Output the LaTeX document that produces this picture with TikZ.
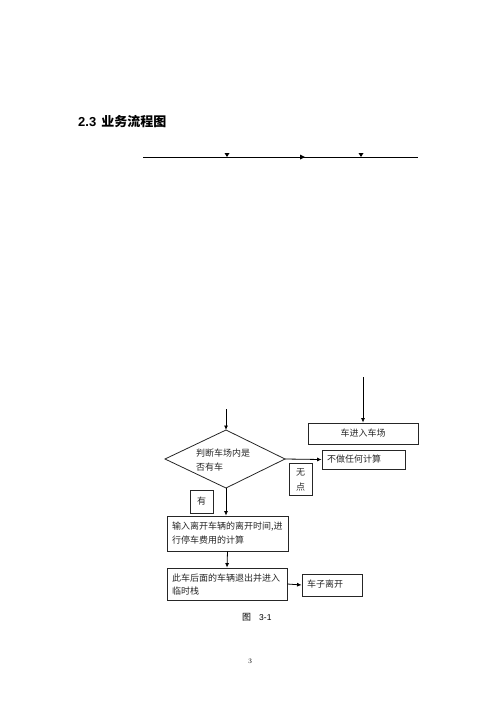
\documentclass[tikz,border=0pt]{standalone}
\usepackage{fontspec}
\usetikzlibrary{arrows.meta}
\newfontfamily\cjk{Noto Sans CJK SC}
\newfontfamily\latn{Liberation Sans}
\begin{document}
\begin{tikzpicture}[x=1pt,y=-1pt,
  box/.style={draw=black!85,line width=0.8pt,inner sep=0pt},
  arr/.style={line width=0.8pt,-{Latex[length=4.5pt,width=4pt]}},
  lbl/.style={font=\cjk\fontsize{9}{11}\selectfont,inner sep=0pt,anchor=west,text=black!85},
  lblc/.style={font=\cjk\fontsize{9}{11}\selectfont,inner sep=0pt,text=black!85}]
\useasboundingbox (0,0) rectangle (500,707);
% title
\node[anchor=west,inner sep=0pt] (title) at (78,122) {\latn\bfseries\fontsize{13}{15}\selectfont 2.3\hspace{5pt}{\cjk\bfseries 业务流程图}};
% top line
\coordinate (la) at (143,157);
\coordinate (lb) at (418,157);
\draw[line width=0.6pt] (la) -- (lb);
\fill (224.5,153) -- (229.5,153) -- (227,157) -- cycle;
\fill (358.5,153) -- (363.5,153) -- (361,157) -- cycle;
\fill (300,154.5) -- (305,157) -- (300,159.5) -- cycle;
% diamond
\coordinate (dt) at (226,430);
\coordinate (dl) at (165,459);
\coordinate (dr) at (285,459);
\coordinate (db) at (226,488);
\draw[line width=0.8pt,black!85] (dt) -- (dr) -- (db) -- (dl) -- cycle;
\node[lbl] (d1) at (196,453) {判断车场内是};
\node[lbl] (d2) at (196,467) {否有车};
\coordinate (din) at (226,409);
\draw[arr] (din) -- (dt);
% right column
\coordinate (rin) at (363,377);
\node[box,minimum width=110pt,minimum height=21pt] (enter) at (363,433.5) {};
\node[lblc] at (enter.center) {车进入车场};
\draw[arr] (rin) -- (enter.north);
\node[box,minimum width=83pt,minimum height=19pt] (none) at (363.5,459.5) {};
\node[lbl] at (327,459.5) {不做任何计算};
\draw[arr] (dr) -- (none.west);
\node[box,minimum width=23pt,minimum height=32pt] (wu) at (300.5,479) {};
\node[lblc] at (300.5,472) {无};
\node[lblc] at (300.5,487) {点};
% yes label
\node[box,minimum width=23pt,minimum height=23pt] (you) at (201.5,501.5) {};
\node[lblc] at (you.center) {有};
% boxes
\node[box,minimum width=121pt,minimum height=35pt] (calc) at (227.5,533.5) {};
\node[lbl] at (172,526.5) {输入离开车辆的离开时间,进};
\node[lbl] at (172,540) {行停车费用的计算};
\draw[arr] (db) -- (calc.north -| db);
\node[box,minimum width=120pt,minimum height=32pt] (exit) at (227,584) {};
\node[lbl] at (172,578) {此车后面的车辆退出并进入};
\node[lbl] at (172,591.5) {临时栈};
\draw[arr] (calc.south) -- (exit.north);
\node[box,minimum width=60pt,minimum height=22pt] (leave) at (332,585) {};
\node[lbl] at (307,584) {车子离开};
\draw[arr] (exit.east) -- (leave.west);
% caption
\node[inner sep=0pt,anchor=west] (cap) at (242,617) {{\cjk\fontsize{9}{11}\selectfont 图}\hspace{8pt}{\latn\fontsize{8.5}{10}\selectfont 3-1}};
\node[inner sep=0pt] (pg) at (250,661) {\fontsize{7}{8}\selectfont 3};
\end{tikzpicture}
\end{document}
